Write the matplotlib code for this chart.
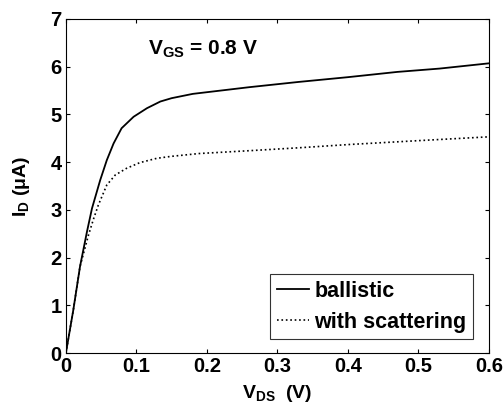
import matplotlib; matplotlib.use("Agg")
import matplotlib.pyplot as plt

plt.rcParams["font.family"] = ["Liberation Sans", "DejaVu Sans"]
plt.rcParams["font.weight"] = "bold"
plt.rcParams["mathtext.fontset"] = "custom"
plt.rcParams["mathtext.rm"] = "Liberation Sans:bold"
plt.rcParams["mathtext.bf"] = "Liberation Sans:bold"
plt.rcParams["mathtext.it"] = "Liberation Sans:bold"

# drain voltage (V) and drain current (uA)
v_ball = [0, 0.0105, 0.02, 0.03, 0.037, 0.0486, 0.058, 0.0676, 0.079, 0.096, 0.115,
          0.134, 0.15, 0.18, 0.26, 0.33, 0.40, 0.47, 0.53, 0.6]
i_ball = [0, 0.9, 1.81, 2.55, 3.03, 3.62, 4.04, 4.39, 4.71, 4.95, 5.13,
          5.27, 5.34, 5.43, 5.57, 5.68, 5.78, 5.89, 5.96, 6.07]
v_scat = [0, 0.0105, 0.02, 0.032, 0.039, 0.046, 0.058, 0.07, 0.086, 0.105, 0.129,
          0.149, 0.189, 0.261, 0.33, 0.403, 0.5, 0.6]
i_scat = [0, 0.9, 1.81, 2.47, 2.8, 3.1, 3.52, 3.73, 3.87, 3.99, 4.08,
          4.12, 4.18, 4.24, 4.30, 4.37, 4.45, 4.53]
xticks = [0, 0.1, 0.2, 0.3, 0.4, 0.5, 0.6]
xticklabels = ["0", "0.1", "0.2", "0.3", "0.4", "0.5", "0.6"]
yticks = [0, 1, 2, 3, 4, 5, 6, 7]

fig = plt.figure(figsize=(5.03, 4.03), dpi=100)
ax = fig.add_axes([0.131, 0.124, 0.841, 0.829])
ax.plot(v_ball, i_ball, "-", color="black", lw=1.3, label="ballistic")
ax.plot(v_scat, i_scat, ":", color="black", lw=1.2, label="with scattering")
ax.set_xlim(0, 0.6); ax.set_ylim(0, 7)
ax.set_xticks(xticks); ax.set_xticklabels(xticklabels)
ax.set_yticks(yticks)
ax.tick_params(direction="in", top=True, right=True, length=3, width=0.8,
               labelsize=14.5, pad=3)
for lab in ax.get_xticklabels() + ax.get_yticklabels():
    lab.set_fontweight("bold")
ax.set_xlabel(r"V$_{\rm DS}$  (V)", fontsize=14, fontweight="bold", labelpad=5)
ax.set_ylabel(r"I$_{\rm D}$ ($\mu$A)", fontsize=14, fontweight="bold", labelpad=13)
ax.text(0.116, 6.25, r"V$_{\rm GS}$ = 0.8 V", fontsize=15, fontweight="bold")
leg = ax.legend(loc="lower right", bbox_to_anchor=(0.962, 0.042), borderaxespad=0,
                fontsize=15.5, frameon=True, fancybox=False, handlelength=1.5,
                handletextpad=0.25, borderpad=0.3, labelspacing=0.45)
leg.get_frame().set_edgecolor("black"); leg.get_frame().set_linewidth(0.8)
for t in leg.get_texts():
    t.set_fontweight("bold")
fig.savefig("out.png", dpi=100)
